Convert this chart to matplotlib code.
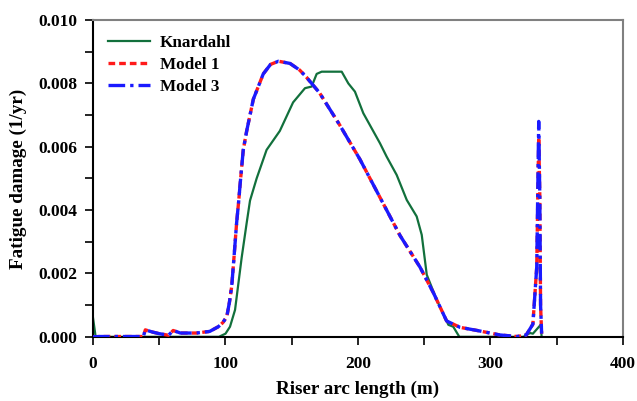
import matplotlib

matplotlib.use("Agg")
import matplotlib.pyplot as plt
from matplotlib.ticker import MultipleLocator, FormatStrFormatter

# --- data ----------------------------------------------------------------
knardahl_x = [0, 2, 10, 50, 95, 100, 103.4, 107.2, 112.2, 116, 118.5, 123.5,
              131, 141, 151, 160, 165, 168.8, 172.6, 187.7, 192.7, 197.7, 204,
              216.6, 221.6, 229.2, 236.8, 244.3, 248.1, 251.9, 259.4, 268.2,
              271.9, 276.5, 300, 324.8, 329.8, 332, 337.9, 338.6]
knardahl_y = [0.0006, 0, 0, 0, 0, 0.0001, 0.00032, 0.00085, 0.0025, 0.0036,
              0.0043, 0.0050, 0.0059, 0.0065, 0.0074, 0.00785, 0.0079, 0.0083,
              0.00837, 0.00837, 0.0080, 0.00774, 0.00706, 0.00611, 0.00569,
              0.00511, 0.00432, 0.0038, 0.00322, 0.00196, 0.00117, 0.00038,
              0.00032, 0, 0, 0, 0.00012, 0.0001, 0.00038, 0]

model_x = [0, 5, 20, 38, 39.5, 45, 50, 57, 60.5, 66, 78, 88, 94.6, 98, 101,
           103, 104.7, 106.4, 108.4, 110, 111, 113.4, 116, 121, 128.5, 134,
           140, 148.7, 156, 161, 171, 186, 201.5, 216.6, 231.7, 246.8, 256.8,
           266.9, 277, 290, 307, 320, 327, 332, 334.9, 336.4, 337.2, 337.8, 338.6]
model1_y = [0, 0.00001, 0.00001, 0.00001, 0.00022, 0.00015, 0.0001, 0.00005,
            0.0002, 0.00012, 0.00012, 0.00017, 0.00032, 0.00045, 0.00064,
            0.0011, 0.0016, 0.0025, 0.0036, 0.0043, 0.0048, 0.0059, 0.0065,
            0.0075, 0.0083, 0.0086, 0.0087, 0.00863, 0.00842, 0.0082, 0.0077,
            0.0067, 0.0056, 0.0044, 0.0032, 0.0022, 0.0014, 0.0005, 0.0003,
            0.0002, 0.00006, 0.00001, 0.00006, 0.0004, 0.0022, 0.0063, 0.0045,
            0.001, 0.0001]
model3_y = [0, 0.00001, 0.00001, 0.00001, 0.00022, 0.00015, 0.0001, 0.00005,
            0.0002, 0.00012, 0.00012, 0.00017, 0.00032, 0.00045, 0.00064,
            0.0011, 0.0016, 0.0025, 0.0036, 0.0043, 0.0048, 0.0059, 0.0065,
            0.0075, 0.0083, 0.0086, 0.0087, 0.00863, 0.00842, 0.0082, 0.0077,
            0.0067, 0.0056, 0.0044, 0.0032, 0.0022, 0.0014, 0.0005, 0.0003,
            0.0002, 0.00006, 0.00001, 0.00006, 0.0004, 0.0022, 0.0068, 0.0045,
            0.001, 0.0001]

GREEN = "#12703c"
RED = "#ff1a1a"
BLUE = "#1a1aff"

plt.rcParams["font.family"] = ["Liberation Serif", "DejaVu Serif"]
plt.rcParams["font.weight"] = "bold"

fig = plt.figure(figsize=(6.37, 4.01), dpi=100)
ax = fig.add_axes([0.146, 0.160, 0.832, 0.790])

ax.plot(knardahl_x, knardahl_y, "-", color=GREEN, lw=1.6, label="Knardahl", zorder=2)
ax.plot(model_x, model1_y, color=RED, lw=2.4, dashes=(2, 1.2), label="Model 1", zorder=3)
ax.plot(model_x, model3_y, color=BLUE, lw=2.4, dashes=(5, 1.5, 1, 1.5), label="Model 3", zorder=4)

ax.set_xlim(0, 400)
ax.set_ylim(0, 0.010)
ax.xaxis.set_major_locator(MultipleLocator(100))
ax.xaxis.set_minor_locator(MultipleLocator(50))
ax.yaxis.set_major_locator(MultipleLocator(0.002))
ax.yaxis.set_minor_locator(MultipleLocator(0.001))
ax.yaxis.set_major_formatter(FormatStrFormatter("%.3f"))

for s in ("left", "bottom"):
    ax.spines[s].set_color("black")
    ax.spines[s].set_linewidth(1.5)
for s in ("top", "right"):
    ax.spines[s].set_color("#808080")
    ax.spines[s].set_linewidth(1.5)

ax.tick_params(which="both", direction="out", length=6, width=1.2,
               top=False, right=False, labelsize=12.5)
ax.tick_params(axis="x", pad=8)
ax.tick_params(axis="y", pad=5)
for lab in ax.get_xticklabels() + ax.get_yticklabels():
    lab.set_fontweight("bold")

ax.set_xlabel("Riser arc length (m)", fontsize=13.8, fontweight="bold", labelpad=6)
ax.set_ylabel("Fatigue damage (1/yr)", fontsize=13.8, fontweight="bold", labelpad=8)

ax.legend(loc="upper left", frameon=False, handlelength=2.5,
          handletextpad=0.55, labelspacing=0.36, borderaxespad=0.45,
          prop={"weight": "bold", "size": 12.3})

fig.savefig("out.png", dpi=100)
